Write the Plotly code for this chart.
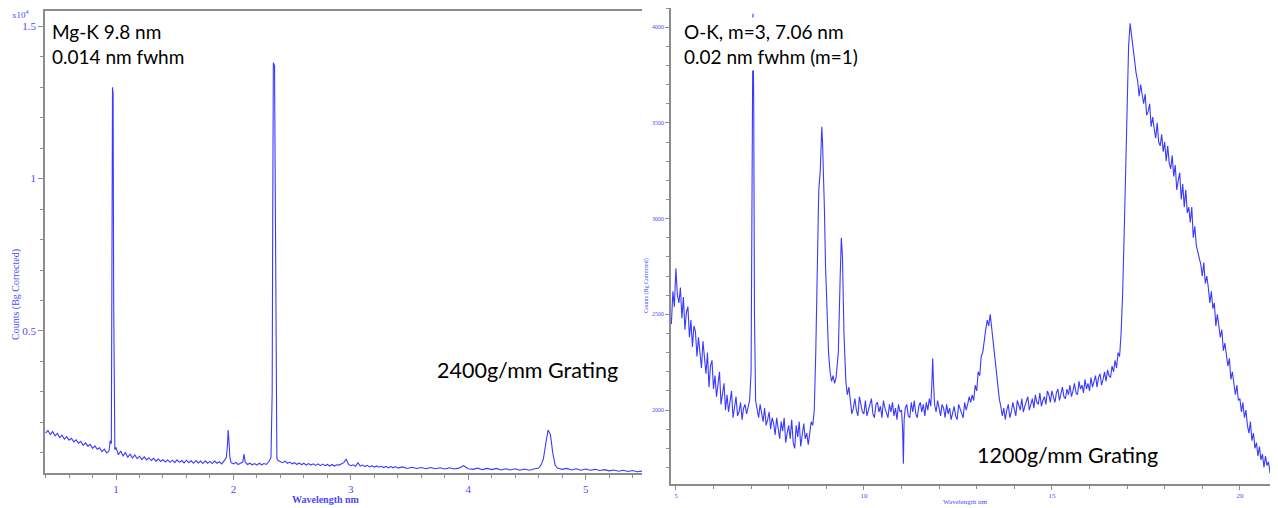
import plotly.graph_objects as go

# page body has an 8 px margin: the figure is drawn 8 px right/down of the window corner
OFF = 8
W, H = 1278 - OFF, 508 - OFF

# ---------------- Mg-K spectrum (2400 g/mm grating), counts in 1e4 ----------------
mg_wavelength = [
    0.40, 0.42, 0.44, 0.46, 0.48, 0.50, 0.52, 0.54, 0.56, 0.58, 0.60, 0.62, 0.64, 0.66, 0.68, 0.70,
    0.72, 0.74, 0.76, 0.78, 0.80, 0.82, 0.84, 0.86, 0.88, 0.90, 0.92, 0.94, 0.95, 0.96, 0.965, 0.970,
    0.975, 0.980, 0.985, 0.99, 1.00, 1.02, 1.04, 1.06, 1.08, 1.10, 1.12, 1.14, 1.16, 1.18, 1.20, 1.22,
    1.24, 1.26, 1.28, 1.30, 1.32, 1.34, 1.36, 1.38, 1.40, 1.42, 1.44, 1.46, 1.48, 1.50, 1.52, 1.54,
    1.56, 1.58, 1.60, 1.62, 1.64, 1.66, 1.68, 1.70, 1.72, 1.74, 1.76, 1.78, 1.80, 1.82, 1.84, 1.86,
    1.88, 1.90, 1.92, 1.94, 1.95, 1.955, 1.96, 1.97, 1.98, 2.00, 2.02, 2.04, 2.06, 2.08, 2.09, 2.10,
    2.12, 2.14, 2.16, 2.18, 2.20, 2.22, 2.24, 2.26, 2.28, 2.30, 2.32, 2.330, 2.335, 2.340, 2.350, 2.355,
    2.360, 2.365, 2.37, 2.38, 2.40, 2.42, 2.44, 2.46, 2.48, 2.50, 2.52, 2.54, 2.56, 2.58, 2.60, 2.62,
    2.64, 2.66, 2.68, 2.70, 2.72, 2.74, 2.76, 2.78, 2.80, 2.82, 2.84, 2.86, 2.88, 2.90, 2.94, 2.96,
    2.98, 3.00, 3.02, 3.04, 3.06, 3.08, 3.10, 3.12, 3.14, 3.16, 3.18, 3.20, 3.22, 3.24, 3.26, 3.28,
    3.30, 3.32, 3.34, 3.36, 3.38, 3.40, 3.44, 3.48, 3.52, 3.56, 3.60, 3.64, 3.68, 3.72, 3.76, 3.80,
    3.84, 3.88, 3.92, 3.96, 4.00, 4.04, 4.08, 4.12, 4.16, 4.20, 4.24, 4.28, 4.32, 4.36, 4.40, 4.44,
    4.48, 4.52, 4.56, 4.60, 4.62, 4.64, 4.66, 4.68, 4.70, 4.72, 4.74, 4.76, 4.80, 4.84, 4.88, 4.92,
    4.96, 5.00, 5.04, 5.08, 5.12, 5.16, 5.20, 5.24, 5.28, 5.32, 5.36, 5.40, 5.44, 5.48,
]
mg_counts = [
    0.165, 0.174, 0.160, 0.170, 0.156, 0.164, 0.150, 0.158, 0.145, 0.153, 0.142, 0.148, 0.136, 0.143, 0.132, 0.138,
    0.125, 0.133, 0.122, 0.128, 0.115, 0.123, 0.112, 0.117, 0.104, 0.112, 0.100, 0.106, 0.140, 0.130, 0.700, 1.300,
    1.280, 0.600, 0.150, 0.110, 0.118, 0.094, 0.106, 0.090, 0.101, 0.086, 0.096, 0.083, 0.093, 0.081, 0.089, 0.078,
    0.087, 0.077, 0.084, 0.075, 0.082, 0.073, 0.080, 0.072, 0.078, 0.070, 0.077, 0.069, 0.076, 0.068, 0.077, 0.069,
    0.075, 0.067, 0.076, 0.068, 0.074, 0.066, 0.075, 0.067, 0.073, 0.065, 0.074, 0.066, 0.072, 0.065, 0.073, 0.066,
    0.071, 0.064, 0.074, 0.085, 0.130, 0.175, 0.150, 0.085, 0.068, 0.064, 0.069, 0.062, 0.066, 0.070, 0.096, 0.070,
    0.062, 0.066, 0.061, 0.065, 0.060, 0.066, 0.061, 0.065, 0.062, 0.070, 0.085, 0.300, 0.900, 1.380, 1.370, 1.000,
    0.400, 0.120, 0.082, 0.075, 0.072, 0.068, 0.073, 0.066, 0.070, 0.064, 0.068, 0.062, 0.067, 0.061, 0.066, 0.060,
    0.065, 0.060, 0.064, 0.059, 0.064, 0.058, 0.063, 0.058, 0.062, 0.057, 0.062, 0.057, 0.061, 0.060, 0.068, 0.080,
    0.062, 0.058, 0.061, 0.056, 0.068, 0.057, 0.060, 0.055, 0.059, 0.054, 0.058, 0.053, 0.057, 0.053, 0.056, 0.052,
    0.056, 0.051, 0.055, 0.051, 0.055, 0.050, 0.054, 0.049, 0.053, 0.049, 0.052, 0.048, 0.052, 0.048, 0.051, 0.047,
    0.051, 0.047, 0.050, 0.058, 0.048, 0.046, 0.050, 0.045, 0.049, 0.045, 0.049, 0.044, 0.048, 0.044, 0.048, 0.043,
    0.047, 0.043, 0.047, 0.050, 0.060, 0.080, 0.130, 0.175, 0.160, 0.100, 0.060, 0.050, 0.046, 0.049, 0.044, 0.048,
    0.043, 0.047, 0.043, 0.046, 0.042, 0.045, 0.041, 0.044, 0.040, 0.043, 0.039, 0.042, 0.038, 0.040,
]

# ---------------- O-K spectrum (1200 g/mm grating), counts ----------------
ok_wavelength = [
    4.88, 4.92, 4.96, 5.00, 5.04, 5.08, 5.12, 5.16, 5.20, 5.24, 5.28, 5.32, 5.36, 5.40, 5.44, 5.48,
    5.52, 5.56, 5.60, 5.64, 5.68, 5.72, 5.76, 5.80, 5.84, 5.88, 5.92, 5.96, 6.00, 6.04, 6.08, 6.12,
    6.16, 6.20, 6.24, 6.28, 6.32, 6.36, 6.40, 6.44, 6.48, 6.52, 6.56, 6.60, 6.64, 6.68, 6.72, 6.76,
    6.80, 6.84, 6.88, 6.92, 6.96, 7.00, 7.03, 7.05, 7.07, 7.09, 7.12, 7.16, 7.20, 7.24, 7.28, 7.32,
    7.36, 7.40, 7.44, 7.48, 7.52, 7.56, 7.60, 7.64, 7.68, 7.72, 7.76, 7.80, 7.84, 7.88, 7.92, 7.96,
    8.00, 8.04, 8.08, 8.12, 8.16, 8.20, 8.24, 8.28, 8.32, 8.36, 8.40, 8.44, 8.48, 8.52, 8.56, 8.60,
    8.64, 8.68, 8.72, 8.76, 8.80, 8.84, 8.86, 8.88, 8.90, 8.92, 8.95, 8.98, 9.02, 9.06, 9.10, 9.14,
    9.18, 9.22, 9.26, 9.32, 9.37, 9.40, 9.43, 9.47, 9.52, 9.56, 9.60, 9.64, 9.68, 9.72, 9.76, 9.80,
    9.84, 9.88, 9.92, 9.96, 10.00, 10.04, 10.08, 10.12, 10.16, 10.20, 10.24, 10.28, 10.32, 10.36, 10.40, 10.44,
    10.48, 10.52, 10.56, 10.60, 10.64, 10.68, 10.72, 10.76, 10.80, 10.84, 10.88, 10.92, 10.96, 11.00, 11.03, 11.05,
    11.07, 11.10, 11.14, 11.18, 11.22, 11.26, 11.30, 11.34, 11.38, 11.42, 11.46, 11.50, 11.54, 11.58, 11.62, 11.66,
    11.70, 11.74, 11.78, 11.81, 11.83, 11.85, 11.88, 11.92, 11.96, 12.00, 12.04, 12.08, 12.12, 12.16, 12.20, 12.24,
    12.28, 12.32, 12.36, 12.40, 12.44, 12.48, 12.52, 12.56, 12.60, 12.64, 12.68, 12.72, 12.76, 12.80, 12.84, 12.88,
    12.92, 12.96, 13.00, 13.04, 13.08, 13.12, 13.16, 13.20, 13.24, 13.28, 13.32, 13.36, 13.40, 13.44, 13.48, 13.52,
    13.56, 13.60, 13.64, 13.68, 13.72, 13.76, 13.80, 13.84, 13.88, 13.92, 13.96, 14.00, 14.04, 14.08, 14.12, 14.16,
    14.20, 14.24, 14.28, 14.32, 14.36, 14.40, 14.44, 14.48, 14.52, 14.56, 14.60, 14.64, 14.68, 14.72, 14.76, 14.80,
    14.84, 14.88, 14.92, 14.96, 15.00, 15.04, 15.08, 15.12, 15.16, 15.20, 15.24, 15.28, 15.32, 15.36, 15.40, 15.44,
    15.48, 15.52, 15.56, 15.60, 15.64, 15.68, 15.72, 15.76, 15.80, 15.84, 15.88, 15.92, 15.96, 16.00, 16.04, 16.08,
    16.12, 16.16, 16.20, 16.24, 16.28, 16.32, 16.36, 16.40, 16.44, 16.48, 16.52, 16.56, 16.60, 16.64, 16.68, 16.72,
    16.76, 16.80, 16.84, 16.88, 16.92, 16.96, 17.00, 17.04, 17.08, 17.12, 17.16, 17.20, 17.24, 17.28, 17.32, 17.36,
    17.40, 17.44, 17.48, 17.52, 17.56, 17.60, 17.64, 17.68, 17.72, 17.76, 17.80, 17.84, 17.88, 17.92, 17.96, 18.00,
    18.04, 18.08, 18.12, 18.16, 18.20, 18.24, 18.28, 18.32, 18.36, 18.40, 18.44, 18.48, 18.52, 18.56, 18.60, 18.64,
    18.68, 18.72, 18.76, 18.80, 18.84, 18.88, 18.92, 18.96, 19.00, 19.04, 19.08, 19.12, 19.16, 19.20, 19.24, 19.28,
    19.32, 19.36, 19.40, 19.44, 19.48, 19.52, 19.56, 19.60, 19.64, 19.68, 19.72, 19.76, 19.80, 19.84, 19.88, 19.92,
    19.96, 20.00, 20.04, 20.08, 20.12, 20.16, 20.20, 20.24, 20.28, 20.32, 20.36, 20.40, 20.44, 20.48, 20.52, 20.56,
    20.60, 20.64, 20.68, 20.72, 20.76, 20.80, 20.84, 20.88, 20.92, 20.96,
]
ok_counts = [
    2450, 2620, 2540, 2740, 2600, 2560, 2640, 2480, 2590, 2420, 2510, 2540, 2380, 2470, 2330, 2440,
    2410, 2280, 2380, 2300, 2220, 2360, 2250, 2190, 2300, 2120, 2230, 2260, 2110, 2180, 2070, 2150,
    2200, 2030, 2090, 2140, 2000, 2080, 1990, 2050, 2100, 1960, 2020, 2070, 1970, 1990, 2040, 1950,
    2010, 2030, 1980, 2020, 2050, 2200, 3300, 4070, 3600, 2500, 2050, 1990, 1960, 2030, 1990, 1940,
    2010, 1920, 1950, 1990, 1900, 1960, 1930, 1870, 1960, 1900, 1850, 1940, 1890, 1960, 1830, 1880,
    1920, 1850, 1950, 1830, 1800, 1920, 1860, 1940, 1810, 1870, 1930, 1850, 1880, 1820, 1900, 1940,
    1920, 2000, 2300, 2800, 3150, 3250, 3350, 3480, 3400, 3300, 3050, 2750, 2500, 2300, 2200, 2150,
    2180, 2140, 2170, 2300, 2700, 2900, 2800, 2400, 2150, 2080, 2120, 2040, 1980, 2010, 2060, 2000,
    1970, 2070, 2020, 1990, 1980, 2050, 1970, 2000, 2040, 2060, 1980, 1960, 2030, 2040, 1990, 2020,
    1960, 2050, 2010, 1980, 1960, 2030, 1990, 2040, 1970, 2010, 1950, 2030, 1990, 2000, 1900, 1720,
    1950, 2010, 2030, 1970, 1960, 2040, 1990, 2050, 1980, 1960, 2020, 2040, 1990, 2030, 1970, 2040,
    2000, 2060, 2020, 2150, 2270, 2150, 2030, 1990, 2050, 2010, 1970, 2030, 2010, 1960, 2030, 1980,
    2010, 1950, 1990, 2020, 1970, 1950, 2030, 2010, 1980, 1960, 2040, 2000, 2030, 2070, 2040, 2080,
    2050, 2130, 2100, 2200, 2180, 2280, 2300, 2380, 2420, 2470, 2440, 2500, 2420, 2380, 2280, 2200,
    2120, 2060, 2020, 1970, 2010, 1950, 2000, 2030, 1960, 1990, 2040, 2010, 1970, 2050, 2030, 2000,
    2060, 1990, 2020, 2040, 2070, 2000, 2030, 2060, 2010, 2080, 2040, 2030, 2090, 2020, 2050, 2070,
    2030, 2100, 2080, 2040, 2100, 2060, 2040, 2090, 2110, 2050, 2080, 2120, 2070, 2060, 2110, 2080,
    2130, 2070, 2100, 2140, 2090, 2080, 2150, 2110, 2130, 2090, 2160, 2110, 2140, 2100, 2170, 2120,
    2150, 2180, 2120, 2170, 2190, 2130, 2160, 2200, 2150, 2210, 2180, 2170, 2230, 2200, 2260, 2220,
    2300, 2280, 2400, 2600, 2900, 3300, 3700, 3900, 4020, 3950, 3870, 3800, 3760, 3720, 3640, 3700,
    3660, 3600, 3650, 3540, 3560, 3600, 3480, 3530, 3470, 3420, 3500, 3400, 3380, 3440, 3350, 3400,
    3300, 3380, 3290, 3260, 3330, 3220, 3280, 3150, 3200, 3240, 3100, 3180, 3060, 3150, 3030, 3060,
    2980, 3060, 2900, 2960, 2860, 2830, 2800, 2760, 2700, 2770, 2660, 2700, 2640, 2560, 2620, 2530,
    2560, 2440, 2500, 2450, 2380, 2420, 2310, 2350, 2290, 2230, 2270, 2160, 2200, 2140, 2080, 2130,
    2050, 2060, 1990, 2040, 1960, 2000, 1920, 1880, 1940, 1840, 1880, 1800, 1830, 1760, 1810, 1740,
    1770, 1700, 1760, 1710, 1730, 1670, 1710, 1650, 1690, 1640,
]

mg_x_ticks = [1, 2, 3, 4, 5]
mg_y_ticks = [0.5, 1, 1.5]
ok_x_ticks = [5, 10, 15, 20]
ok_y_ticks = [2000, 2500, 3000, 3500, 4000]

LINE = "#3a3aff"
TICKBLUE = "#4a4aff"
AXIS = "#8c8c8c"
SERIF = "Liberation Serif"


def px(x):
    """window pixel x -> paper fraction"""
    return min(max((x - OFF) / W, 0.0), 1.0)


def py(y):
    """window pixel y (from top) -> paper fraction"""
    return min(max(1 - (y - OFF) / H, 0.0), 1.0)


fig = go.Figure()
fig.add_trace(go.Scatter(x=mg_wavelength, y=mg_counts, mode="lines",
                         line=dict(color=LINE, width=1.1), xaxis="x", yaxis="y",
                         showlegend=False, hoverinfo="skip"))
fig.add_trace(go.Scatter(x=ok_wavelength, y=ok_counts, mode="lines",
                         line=dict(color=LINE, width=1.1), xaxis="x2", yaxis="y2",
                         showlegend=False, hoverinfo="skip"))

common_axis = dict(showgrid=False, zeroline=False, showline=True, linecolor=AXIS,
                   linewidth=1.5, ticks="outside", tickcolor=AXIS, tickwidth=1,
                   automargin=False)

fig.update_layout(
    width=W, height=H,
    margin=dict(l=0, r=0, t=0, b=0),
    paper_bgcolor="white", plot_bgcolor="white",
    xaxis=dict(common_axis, domain=[px(45), px(642)], range=[0.395, 5.48], anchor="y",
               tickvals=mg_x_ticks, ticklen=5, mirror=True,
               minor=dict(dtick=0.2, tick0=0, ticklen=3, ticks="outside", tickcolor=AXIS),
               tickfont=dict(family=SERIF, size=11, color=TICKBLUE)),
    yaxis=dict(common_axis, domain=[py(473), py(11)], range=[0.034, 1.55], anchor="x",
               tickvals=mg_y_ticks, ticklen=5,
               minor=dict(dtick=0.1, tick0=0, ticklen=3, ticks="outside", tickcolor=AXIS),
               tickfont=dict(family=SERIF, size=11, color=TICKBLUE)),
    xaxis2=dict(common_axis, domain=[px(671), px(1276)], range=[4.87, 20.96], anchor="y2",
                tickvals=ok_x_ticks, ticklen=4, mirror=True,
                minor=dict(dtick=1, tick0=0, ticklen=3, ticks="outside", tickcolor=AXIS),
                tickfont=dict(family=SERIF, size=7, color=TICKBLUE)),
    yaxis2=dict(common_axis, domain=[py(484), py(8)], range=[1614, 4100], anchor="x2",
                tickvals=ok_y_ticks, ticklen=4,
                minor=dict(dtick=100, tick0=0, ticklen=3, ticks="outside", tickcolor=AXIS),
                tickfont=dict(family=SERIF, size=6, color=TICKBLUE)),
)

# axis titles as annotations (exact placement)
axis_titles = [
    ("<b>Wavelength nm</b>", 326, 499, 0, 10),
    ("Counts (Bg Corrected)", 16, 295, -90, 10),
    ("Wavelength nm", 965, 502, 0, 7),
    ("Counts (Bg Corrected)", 646, 285, -90, 6),
]
for text, x0, y0, ang, size in axis_titles:
    fig.add_annotation(text=text, xref="paper", yref="paper", x=px(x0), y=py(y0),
                       xanchor="center", yanchor="middle", showarrow=False, textangle=ang,
                       font=dict(family=SERIF, size=size, color=TICKBLUE))

TXT = "Lato"
notes = [
    ("Mg-K 9.8 nm<br>0.014 nm fwhm", 49, 17, 19),
    ("O-K, m=3, 7.06 nm<br>0.02 nm fwhm (m=1)", 681, 17, 19),
    ("2400g/mm Grating", 434, 354, 21.5),
    ("1200g/mm Grating", 974, 439, 21.5),
]
for text, x0, y0, size in notes:
    fig.add_annotation(text=text, xref="paper", yref="paper", x=px(x0), y=py(y0),
                       xanchor="left", yanchor="top", showarrow=False, align="left",
                       bgcolor="white", borderpad=2,
                       font=dict(family=TXT, size=size, color="black"))

fig.add_annotation(text="x10<sup>4</sup>", xref="paper", yref="paper", x=px(32), y=py(14),
                   xanchor="right", yanchor="middle", showarrow=False,
                   font=dict(family=SERIF, size=9, color=TICKBLUE))

fig.write_html("out.html")
